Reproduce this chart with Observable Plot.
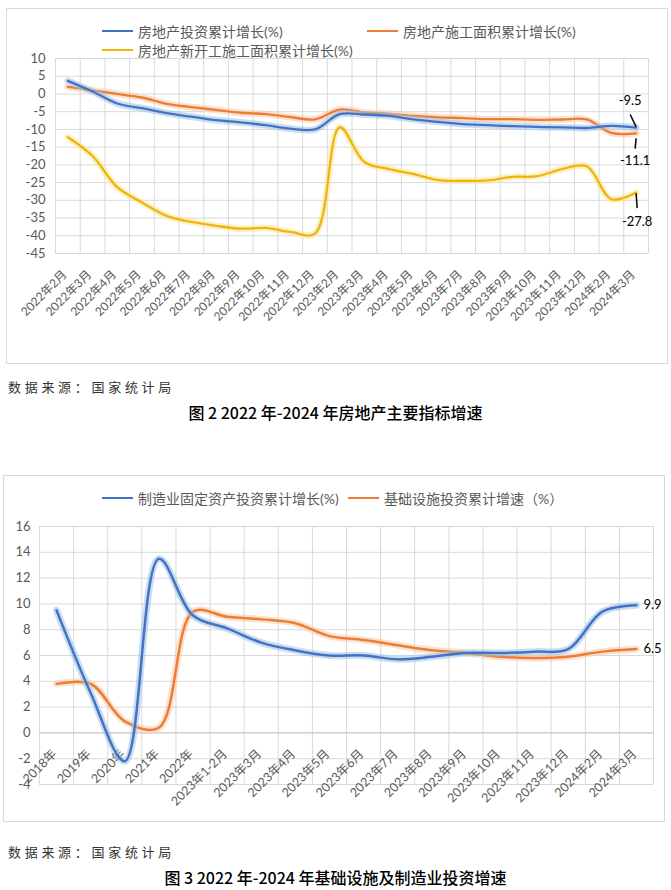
<!DOCTYPE html>
<html><head><meta charset="utf-8">
<script src="https://cdn.jsdelivr.net/npm/d3@7"></script>
<script src="https://cdn.jsdelivr.net/npm/@observablehq/plot@0.6"></script>
<style>
body{margin:0;background:#fff;width:671px;height:890px;position:relative;overflow:hidden;font-family:Lato,"Noto Sans CJK SC",sans-serif;}
.box{position:absolute;border:1px solid #d9d9d9;box-sizing:border-box;}
.chart{position:absolute;left:0;}
.legend{position:absolute;font-size:14px;color:#595959;white-space:nowrap;display:flex;align-items:center;height:18px;font-family:Lato,"Noto Sans CJK SC",sans-serif;}
.legend i{display:inline-block;width:31px;height:2.5px;margin-right:5px;}
.caption{position:absolute;left:8px;font-size:13px;letter-spacing:3.7px;color:#333;font-family:"Noto Sans CJK SC",sans-serif;}
.title{position:absolute;left:0;width:671px;text-align:center;font-size:16px;color:#000;font-family:"Noto Sans CJK SC",sans-serif;font-weight:500;}
</style></head><body>
<div class="box" style="left:6px;top:8px;width:662px;height:356px"></div>
<div class="box" style="left:3px;top:475px;width:662px;height:347px"></div>
<div id="c1" class="chart" style="top:0px"></div>
<div id="c2" class="chart" style="top:470px"></div>
<div id="leg"></div>
<div class="caption" style="top:377px">数据来源：国家统计局</div>
<div class="title" style="top:400px">图 2 2022 年-2024 年房地产主要指标增速</div>
<div class="caption" style="top:842px">数据来源：国家统计局</div>
<div class="title" style="top:865px">图 3 2022 年-2024 年基础设施及制造业投资增速</div>
<script>
// ---------- Chart 1 data ----------
const months1 = ["2022年2月","2022年3月","2022年4月","2022年5月","2022年6月","2022年7月","2022年8月","2022年9月","2022年10月","2022年11月","2022年12月",
  "2023年2月","2023年3月","2023年4月","2023年5月","2023年6月","2023年7月","2023年8月","2023年9月","2023年10月","2023年11月","2023年12月",
  "2024年2月","2024年3月"];
const investGrowth = [3.7,0.7,-2.7,-4.0,-5.4,-6.4,-7.4,-8.0,-8.8,-9.8,-10.0,-5.7,-5.8,-6.2,-7.2,-7.9,-8.5,-8.8,-9.1,-9.3,-9.4,-9.6,-9.0,-9.5];
const constructionGrowth = [2.0,1.0,0.0,-1.0,-2.8,-3.7,-4.5,-5.3,-5.7,-6.5,-7.2,-4.4,-5.2,-5.6,-6.2,-6.6,-6.8,-7.1,-7.1,-7.3,-7.2,-7.2,-11.0,-11.1];
const newStartGrowth = [-12.2,-17.5,-26.3,-30.6,-34.4,-36.1,-37.2,-38.0,-37.8,-38.9,-39.4,-9.4,-19.2,-21.2,-22.6,-24.3,-24.5,-24.4,-23.4,-23.2,-21.2,-20.4,-29.7,-27.8];
const series1Names = ["房地产投资累计增长(%)","房地产施工面积累计增长(%)","房地产新开工施工面积累计增长(%)"];
const yTicks1 = [10,5,0,-5,-10,-15,-20,-25,-30,-35,-40,-45];

// ---------- Chart 2 data ----------
const cats2 = ["2018年","2019年","2020年","2021年","2022年","2023年1-2月","2023年3月","2023年4月","2023年5月","2023年6月","2023年7月","2023年8月","2023年9月","2023年10月","2023年11月","2023年12月","2024年2月","2024年3月"];
const manufacturingGrowth = [9.5,3.1,-2.2,13.5,9.1,8.1,7.0,6.4,6.0,6.0,5.7,5.9,6.2,6.2,6.3,6.5,9.4,9.9];
const infrastructureGrowth = [3.8,3.8,0.9,0.4,9.4,9.0,8.8,8.5,7.5,7.2,6.8,6.4,6.2,5.9,5.8,5.9,6.3,6.5];
const series2Names = ["制造业固定资产投资累计增长(%)","基础设施投资累计增速（%）"];
const yTicks2 = [16,14,12,10,8,6,4,2,0,-2,-4];

const BLUE="#4472C4", ORANGE="#ED7D31", YELLOW="#EDB60C";
const GLOW={[BLUE]:"#9DC3E6",[ORANGE]:"#F8CBAD",[YELLOW]:"#FFE699"};
const FONT='Lato,"Noto Sans CJK SC",sans-serif';
const GRID="#d9d9d9", TXT="#595959";

const toRows = (cats, vals) => cats.map((c,i)=>({i, c, v: vals[i]}));

function lineMarks(rows, color, w){
  return [
    Plot.line(rows,{x:"i",y:"v",curve:"catmull-rom",stroke:GLOW[color],strokeWidth:w+4.5,strokeOpacity:0.55}),
    Plot.line(rows,{x:"i",y:"v",curve:"catmull-rom",stroke:color,strokeWidth:w})
  ];
}

// ---------- Chart 1 ----------
const r1a = toRows(months1, investGrowth);
const r1b = toRows(months1, constructionGrowth);
const r1c = toRows(months1, newStartGrowth);
const n1 = months1.length;
const last1a = r1a[n1-1], last1b = r1b[n1-1], last1c = r1c[n1-1];

const p1 = Plot.plot({
  width:671, height:370, marginLeft:55, marginRight:23, marginTop:58, marginBottom:117,
  x:{domain:[-0.5,n1-0.5], axis:null},
  y:{domain:[-45,10], axis:null},
  style:{fontFamily:FONT, background:"transparent", overflow:"visible"},
  marks:[
    Plot.ruleY(yTicks1,{stroke:GRID}),
    Plot.ruleX(d3.range(n1+1).map(i=>i-0.5),{stroke:GRID}),
    Plot.text(yTicks1,{x:()=>-0.5,y:d=>d,text:d=>String(d),textAnchor:"end",dx:-10,fontSize:13,fill:TXT}),
    Plot.text(r1a,{x:"i",y:()=>-45,text:"c",rotate:-45,textAnchor:"end",dx:-3,dy:19,fontSize:12,fill:TXT}),
    ...lineMarks(r1c, YELLOW, 2.3),
    ...lineMarks(r1b, ORANGE, 2.3),
    ...lineMarks(r1a, BLUE, 2.3),
    // data labels with leader lines
    Plot.link([last1a],{x1:"i",y1:d=>d.v+0.2,x2:d=>d.i-0.24,y2:d=>d.v+3.7,stroke:"#000",strokeWidth:1.5}),
    Plot.text([last1a],{x:"i",y:"v",text:d=>d.v.toFixed(1),dx:-6,dy:-27,fontSize:13,fill:"#000"}),
    Plot.link([last1b],{x1:"i",y1:d=>d.v-1.4,x2:d=>d.i-0.04,y2:d=>d.v-4.3,stroke:"#000",strokeWidth:1.5}),
    Plot.text([last1b],{x:"i",y:"v",text:d=>d.v.toFixed(1),dx:-1,dy:28,fontSize:13,fill:"#000"}),
    Plot.link([last1c],{x1:"i",y1:d=>d.v-0.2,x2:d=>d.i+0.04,y2:d=>d.v-4.4,stroke:"#000",strokeWidth:1.5}),
    Plot.text([last1c],{x:"i",y:"v",text:d=>d.v.toFixed(1),dx:1,dy:29,fontSize:13,fill:"#000"})
  ]
});
document.getElementById("c1").appendChild(p1);

// ---------- Chart 2 ----------
const r2a = toRows(cats2, manufacturingGrowth);
const r2b = toRows(cats2, infrastructureGrowth);
const n2 = cats2.length;
const p2 = Plot.plot({
  width:671, height:360, marginLeft:39, marginRight:18, marginTop:56, marginBottom:46,
  x:{domain:[-0.5,n2-0.5], axis:null},
  y:{domain:[-4,16], axis:null},
  style:{fontFamily:FONT, background:"transparent", overflow:"visible"},
  marks:[
    Plot.ruleY(yTicks2,{stroke:GRID}),
    Plot.ruleX(d3.range(n2+1).map(i=>i-0.5),{stroke:GRID}),
    Plot.ruleY([0],{stroke:"#c8c8c8"}),
    Plot.text(yTicks2,{x:()=>-0.5,y:d=>d,text:d=>String(d),textAnchor:"end",dx:-9,fontSize:13,fill:TXT}),
    Plot.text(r2a,{x:"i",y:()=>0,text:"c",rotate:-45,textAnchor:"end",dx:-2,dy:19,fontSize:12.5,fill:TXT}),
    ...lineMarks(r2b, ORANGE, 2.5),
    ...lineMarks(r2a, BLUE, 2.5),
    Plot.text([r2a[n2-1], r2b[n2-1]],{x:"i",y:"v",text:d=>d.v.toFixed(1),textAnchor:"start",dx:7,fontSize:13,fill:"#000"})
  ]
});
document.getElementById("c2").appendChild(p2);

// ---------- Legends ----------
const leg = document.getElementById("leg");
function addLegend(x,y,color,label){
  const d=document.createElement("div");
  d.className="legend"; d.style.left=x+"px"; d.style.top=(y-9)+"px";
  const i=document.createElement("i"); i.style.background=color;
  d.appendChild(i); d.appendChild(document.createTextNode(label));
  leg.appendChild(d);
}
addLegend(102,31,BLUE,series1Names[0]);
addLegend(367,31,ORANGE,series1Names[1]);
addLegend(102,50,YELLOW,series1Names[2]);
addLegend(102,498,BLUE,series2Names[0]);
addLegend(348,498,ORANGE,series2Names[1]);
</script>
</body></html>
